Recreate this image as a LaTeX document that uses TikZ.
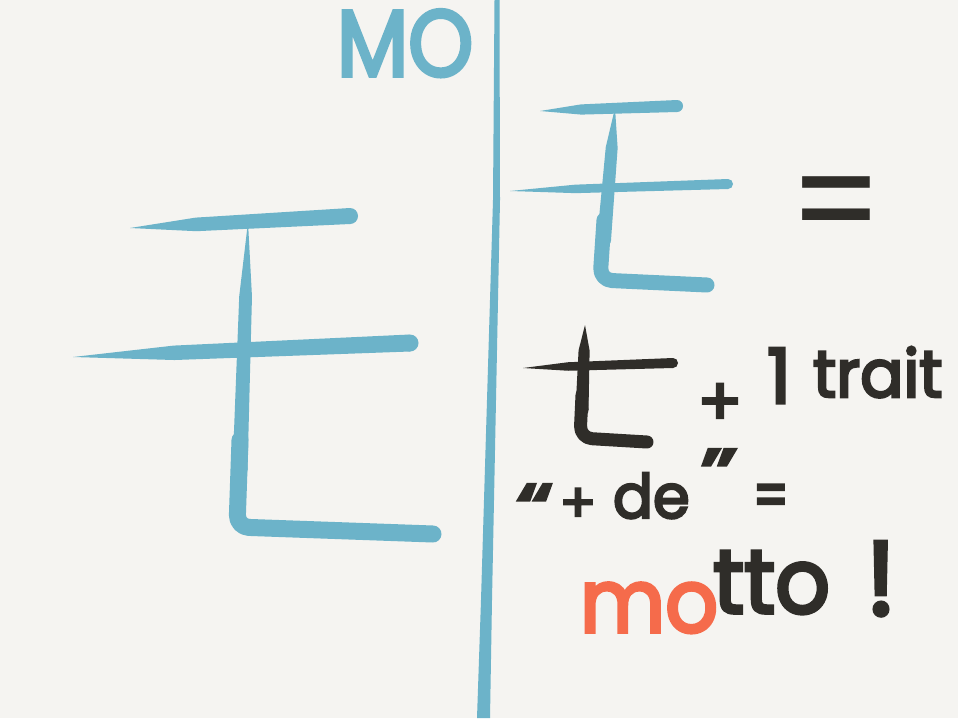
\documentclass[tikz,border=0pt]{standalone}
\usepackage{fontspec}
\setmainfont{Poppins}
\newfontfamily\hand{Poppins}[FakeBold=4]
\usetikzlibrary{calc}
\definecolor{bg}{HTML}{F5F4F1}
\definecolor{sk}{HTML}{6CB3C9}
\definecolor{ink}{HTML}{2F2D29}
\definecolor{org}{HTML}{F56B4B}
\newcommand\fs[1]{\hand\fontsize{#1}{#1}\selectfont}
\newcommand\fsr[1]{\fontsize{#1}{#1}\selectfont}
% tapered brush stroke: #1 colour, #2 thin start, #3 thick end, #4 half width (pt)
\newcommand\taper[4]{%
  \fill[#1] #2 -- ($#2!0.3!#3!{0.85*#4pt}!90:#3$) -- ($#3!#4pt!-90:#2$)
    -- ($#3!#4pt!90:#2$) -- ($#2!0.3!#3!{0.85*#4pt}!-90:#3$) -- cycle;
  \fill[#1] #3 circle[radius=#4pt];}
\begin{document}
\begin{tikzpicture}[x=1pt,y=-1pt,
  txt/.style={inner sep=0pt, outer sep=0pt},
  brush/.style={line cap=round, line join=round, rounded corners=12pt}]
\fill[bg] (0,0) rectangle (958,718);
\useasboundingbox (0,0) rectangle (958,718);

% central dividing line
\fill[sk] (494.5,0) -- (493,200) -- (487,400) -- (481,600) -- (477,718)
  -- (490,718) -- (492,600) -- (496,400) -- (500,200) -- (499.5,0) -- cycle;

% big left glyph
\taper{sk}{(130,228)}{(350,216)}{8}
\taper{sk}{(248,222)}{(240,470)}{7.5}
\draw[sk, brush, line width=17pt] (240,440) -- (237,527) -- (433,534);
\taper{sk}{(73,357)}{(410,343)}{8.5}

% top right glyph
\taper{sk}{(540,111)}{(677,106)}{6}
\taper{sk}{(615,108)}{(604,240)}{7}
\draw[sk, brush, line width=15pt] (604,220) -- (600,280) -- (707,285);
\taper{sk}{(510,191)}{(728,184)}{5}

% black t
\taper{ink}{(585,325)}{(582,410)}{6.5}
\draw[ink, brush, line width=13pt] (582,395) -- (580,438) -- (647,442);
\taper{ink}{(523,368)}{(673,363)}{5}

% texts
\node[txt, anchor=base west, text=sk] (mo) at (337,76) {\scalebox{0.88}[1]{\fs{94}MO}};
\node[txt, anchor=base, text=ink] (eqA) at (836,253) {\scalebox{1.3}[1.5]{\fsr{100}=}};
\node[txt, anchor=base, text=ink] (plusA) at (720,425) {\fs{66}+};
\node[txt, anchor=base west, text=ink] (one) at (767,403) {\fs{76}1};
\node[txt, anchor=base west, text=ink] (trait) at (813,397) {\scalebox{0.97}[1]{\fs{66}trait}};
\node[txt, anchor=base, text=ink] (lq) at (535,533) {\scalebox{1.4}[1]{\fs{70}“}};
\node[txt, anchor=base, text=ink] (plusB) at (578,522) {\fs{54}+};
\node[txt, anchor=base west, text=ink] (de) at (613,518) {\scalebox{0.97}[1]{\fs{61}de}};
\node[txt, anchor=base, text=ink] (rq) at (719,498) {\scalebox{1.4}[1]{\fs{70}”}};
\node[txt, anchor=base, text=ink] (eqB) at (771,518) {\scalebox{1}[1.3]{\fs{50}=}};
\node[txt, anchor=base west, text=org] (moA) at (580,632) {\scalebox{0.94}[1]{\fs{88}mo}};
\node[txt, anchor=base west, text=ink] (tto) at (713,613) {\scalebox{0.95}[1]{\fs{90}tto}};
\node[txt, anchor=base, text=ink] (excl) at (881,615) {\fs{105}!};
\end{tikzpicture}
\end{document}
